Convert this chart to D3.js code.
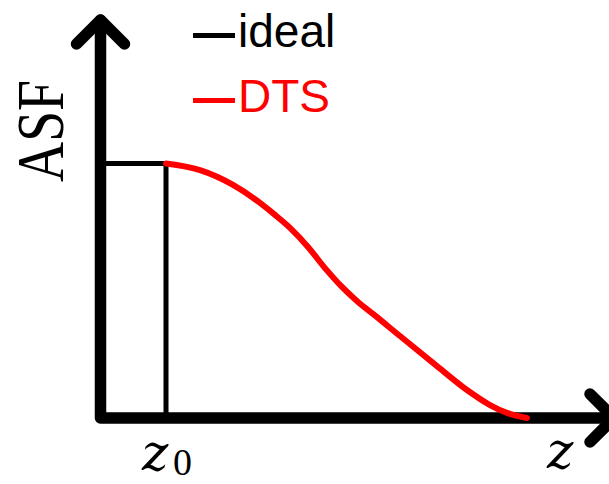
<!DOCTYPE html>
<html>
<head>
<meta charset="utf-8">
<script src="https://cdn.jsdelivr.net/npm/d3@7"></script>
<style>
  html, body { margin: 0; padding: 0; background: #fff; }
  svg { display: block; }
</style>
</head>
<body>
<svg id="chart" width="609" height="484"></svg>
<script>
// Axis position of the cutoff z0 and the extent of both axes (data units)
const z0 = 13.1;
const zMax = 102.7;
const asfMax = 1.564;

// Ideal ASF: flat at 1 up to z0, then drops straight to 0
const idealZ   = [0, z0, z0];
const idealASF = [1, 1, 0];

// DTS ASF: smooth roll-off from z0 down to 0
const dtsZ   = [13.1, 19.9, 26.5, 31.9, 34.9, 37.9, 41.5, 44.9, 48.3, 51.5, 54.5, 59.9, 67.3, 73.3, 77.9, 81.3, 85.3];
const dtsASF = [1.0, 0.974, 0.916, 0.845, 0.798, 0.747, 0.672, 0.589, 0.515, 0.456, 0.409, 0.322, 0.204, 0.110, 0.051, 0.020, 0.0];

// Axis labels along z
const tickValues = [z0, 91.8];
const tickLabels = ["z", "z"];
const tickSubs   = ["0", ""];

const seriesNames  = ["ideal", "DTS"];
const seriesColors = ["#000000", "#ff0000"];

const svg = d3.select("#chart");

const x = d3.scaleLinear().domain([0, 100]).range([100.5, 600.5]);
const y = d3.scaleLinear().domain([0, 1]).range([418, 163.5]);

// Axes drawn as thick arrows
const axes = svg.append("g")
  .attr("fill", "none")
  .attr("stroke", "#000")
  .attr("stroke-width", 11.5)
  .attr("stroke-linecap", "round")
  .attr("stroke-linejoin", "round");

axes.append("path")
  .attr("d", `M${x(0)},${y(asfMax)} L${x(0)},${y(0)} L${x(zMax)},${y(0)}`);

const head = 24;
axes.append("path")
  .attr("d", `M${x(0) - head},${y(asfMax) + head} L${x(0)},${y(asfMax)} L${x(0) + head},${y(asfMax) + head}`);
axes.append("path")
  .attr("d", `M${x(zMax) - head},${y(0) - head} L${x(zMax)},${y(0)} L${x(zMax) - head},${y(0) + head}`);

// Series
svg.append("path")
  .datum(d3.zip(idealZ, idealASF))
  .attr("fill", "none")
  .attr("stroke", seriesColors[0])
  .attr("stroke-width", 5)
  .attr("stroke-linejoin", "miter")
  .attr("d", d3.line().x(d => x(d[0])).y(d => y(d[1])));

svg.append("path")
  .datum(d3.zip(dtsZ, dtsASF))
  .attr("fill", "none")
  .attr("stroke", seriesColors[1])
  .attr("stroke-width", 6)
  .attr("stroke-linecap", "round")
  .attr("d", d3.line().x(d => x(d[0])).y(d => y(d[1])).curve(d3.curveMonotoneX));

// Y axis title
svg.append("text")
  .attr("transform", `translate(63,131) rotate(-90)`)
  .attr("text-anchor", "middle")
  .attr("font-family", "'Liberation Serif', 'Times New Roman', serif")
  .attr("font-size", 68)
  .attr("textLength", 102)
  .attr("lengthAdjust", "spacingAndGlyphs")
  .attr("fill", "#000")
  .text("ASF");

// Z axis labels
tickValues.forEach((v, i) => {
  const g = svg.append("g");
  const left = x(v) - (tickSubs[i] ? 24 : 12.5);
  g.append("text")
    .attr("x", left)
    .attr("y", i === 0 ? 470 : 468)
    .attr("font-family", "'DejaVu Serif', serif")
    .attr("font-style", "italic")
    .attr("font-size", 50)
    .attr("fill", "#000")
    .text(tickLabels[i]);
  if (tickSubs[i]) {
    g.append("text")
      .attr("x", left + 31)
      .attr("y", 475)
      .attr("font-family", "'Liberation Serif', serif")
      .attr("font-size", 38)
      .attr("fill", "#000")
      .text(tickSubs[i]);
  }
});

// Legend
const legend = svg.append("g");
seriesNames.forEach((name, i) => {
  const yy = 35.5 + i * 65;
  legend.append("line")
    .attr("x1", 193).attr("x2", 235)
    .attr("y1", yy).attr("y2", yy)
    .attr("stroke", seriesColors[i])
    .attr("stroke-width", 5);
  legend.append("text")
    .attr("x", 238)
    .attr("y", yy + 11.5)
    .attr("font-family", "'Liberation Sans', Arial, sans-serif")
    .attr("font-size", 46)
    .attr("fill", seriesColors[i])
    .text(name);
});
</script>
</body>
</html>
